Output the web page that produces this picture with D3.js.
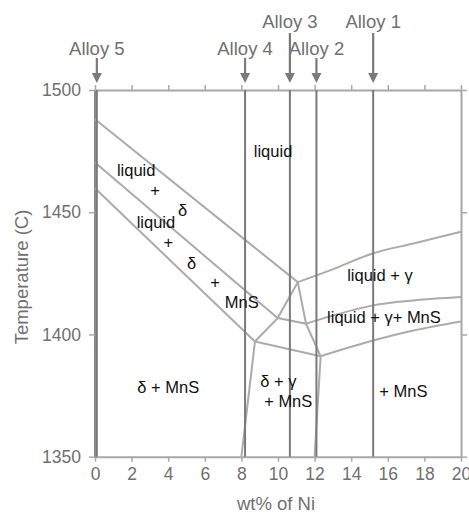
<!DOCTYPE html>
<html><head><meta charset="utf-8">
<script src="https://cdn.jsdelivr.net/npm/d3@7"></script>
<style>body{margin:0;background:#fff}svg{display:block}</style>
</head><body><svg id="c" width="469" height="513"></svg>
<script>
// ---- data ----
const xTicks = [0,2,4,6,8,10,12,14,16,18,20];
const yTicks = [1350,1400,1450,1500];
const alloyNames = ["Alloy 1","Alloy 2","Alloy 3","Alloy 4","Alloy 5"];
const alloyNi = [15.2,12.1,10.65,8.2,0.1];
const alloyUpper = [true,false,true,false,false];

const liquidusDelta   = [[0,1488],[11.08,1421.4]];
const liqDeltaMnS     = [[0,1470.3],[9.98,1406.7]];
const solidusDelta    = [[0,1459.8],[8.74,1397.1]];
const lineABC         = [[11.08,1421.4],[9.98,1406.7],[8.74,1397.1]];
const lineAED         = [[11.08,1421.4],[11.53,1404.4],[12.33,1391.1]];
const lineBE          = [[9.98,1406.7],[11.53,1404.4]];
const lineCD          = [[8.74,1397.1],[12.33,1391.1]];
const lineCBottom     = [[8.74,1397.1],[8.0,1350]];
const lineDBottom     = [[12.33,1391.1],[12.0,1350]];
const liquidusGamma   = [[11.08,1421.4],[12.84,1426.2],[15.2,1433.2],[17.4,1437.2],[20,1442]];
const gammaMnSUpper   = [[11.53,1404.4],[12.84,1407.4],[15.2,1411.9],[17.4,1413.9],[20,1415.3]];
const gammaMnSLower   = [[12.33,1391.1],[15.2,1397.5],[17.4,1401.6],[20,1405.3]];

const phaseText = ["liquid","liquid","+","δ","liquid","+","δ","+","MnS","liquid + γ","liquid + γ+ MnS","δ + MnS","δ + γ","+ MnS","+ MnS"];
const phaseNi   = [9.73,2.25,3.28,4.79,3.33,4.0,5.28,6.56,8.02,15.57,15.79,4.0,10.02,10.56,16.85];
const phaseT    = [1474.8,1467,1459.1,1450.9,1446.1,1437.9,1429.3,1421.3,1413,1424.3,1407,1378.6,1381,1372.7,1376.6];

// ---- drawing ----
const svg = d3.select("#c");
svg.append("rect").attr("width",469).attr("height",513).attr("fill","#fff");
const x = d3.scaleLinear().domain([0,20]).range([95,461]);
const y = d3.scaleLinear().domain([1350,1500]).range([456.7,90]);
const gray = "#707070";

// axes
const tickFont = "17.5px 'Liberation Sans', Arial, sans-serif";
const axB = svg.append("g").attr("transform",`translate(0,${y(1350)})`)
  .call(d3.axisBottom(x).tickValues(xTicks).tickSize(5).tickPadding(6).tickSizeOuter(0));
const axT = svg.append("g").attr("transform",`translate(0,${y(1500)})`)
  .call(d3.axisTop(x).tickValues(xTicks).tickSize(5).tickFormat("").tickSizeOuter(0));
const axL = svg.append("g").attr("transform",`translate(${x(0)},0)`)
  .call(d3.axisLeft(y).tickValues(yTicks).tickSize(6).tickPadding(8).tickSizeOuter(0).tickFormat(d3.format("d")));
const axR = svg.append("g").attr("transform",`translate(${x(20)},0)`)
  .call(d3.axisRight(y).tickValues(yTicks).tickSize(6).tickFormat("").tickSizeOuter(0));
[axB,axT,axL,axR].forEach(a=>{
  a.selectAll("path").attr("stroke","#a8a8a8").attr("stroke-width",2);
  a.selectAll("line").attr("stroke","#a8a8a8").attr("stroke-width",1.5);
  a.selectAll("text").attr("fill",gray).style("font",tickFont);
});
axL.select("path").attr("stroke","#8c8c8c").attr("stroke-width",3);

// phase boundaries
const line = d3.line().x(d=>x(d[0])).y(d=>y(d[1]));
const curve = d3.line().x(d=>x(d[0])).y(d=>y(d[1])).curve(d3.curveMonotoneX);
const bnd = svg.append("g").attr("fill","none").attr("stroke","#ababab").attr("stroke-width",2);
[liquidusDelta,liqDeltaMnS,solidusDelta,lineABC,lineAED,lineBE,lineCD,lineCBottom,lineDBottom]
  .forEach(p=>bnd.append("path").attr("d",line(p)));
[liquidusGamma,gammaMnSUpper,gammaMnSLower].forEach(p=>bnd.append("path").attr("d",curve(p)));

// alloy verticals
const al = svg.append("g");
alloyNi.forEach((v,i)=>{
  al.append("line").attr("x1",x(v)).attr("x2",x(v)).attr("y1",y(1500)).attr("y2",y(1350))
    .attr("stroke","#7a7a7a").attr("stroke-width",2);
  const top = alloyUpper[i] ? 33 : 58;
  al.append("line").attr("x1",x(v)).attr("x2",x(v)).attr("y1",top).attr("y2",74)
    .attr("stroke","#7a7a7a").attr("stroke-width",2.2);
  al.append("path").attr("d",`M${x(v)-5},73L${x(v)+5},73L${x(v)},83Z`).attr("fill","#7a7a7a");
  al.append("text").attr("x",x(v)).attr("y",alloyUpper[i]?27.5:55).attr("text-anchor","middle")
    .attr("fill",gray).style("font","18.5px 'Liberation Sans', Arial, sans-serif").text(alloyNames[i]);
});

// phase labels
const lab = svg.append("g").attr("fill","#111").style("font","16.5px 'Liberation Sans', Arial, sans-serif");
phaseText.forEach((t,i)=>{
  lab.append("text").attr("x",x(phaseNi[i])).attr("y",y(phaseT[i])).attr("dy","0.35em")
    .attr("text-anchor","middle").text(t);
});

// axis titles
svg.append("text").attr("x",276).attr("y",503.5).attr("dy","0.35em").attr("text-anchor","middle")
  .attr("fill",gray).style("font","18.5px 'Liberation Sans', Arial, sans-serif").text("wt% of Ni");
svg.append("text").attr("transform","translate(22,277) rotate(-90)").attr("dy","0.35em").attr("text-anchor","middle")
  .attr("fill",gray).style("font","18.5px 'Liberation Sans', Arial, sans-serif").text("Temperature (C)");
</script></body></html>
